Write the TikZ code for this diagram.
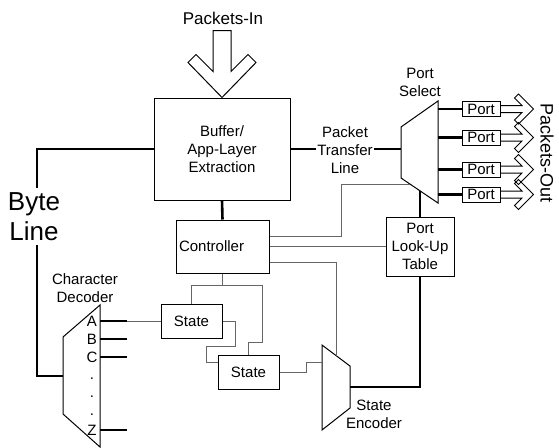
\documentclass[tikz,border=0pt]{standalone}
\usepackage{fontspec}
\setmainfont{Liberation Sans}

\begin{document}
\begin{tikzpicture}[x=1pt,y=-1pt,
    font=\fontsize{15}{18}\selectfont,
    blk/.style={draw,line width=1pt,inner sep=0pt,align=center},
    txt/.style={align=center,inner sep=0pt},
    bus/.style={line width=2.6pt},
    wire/.style={line width=1pt,draw=black!60},
    outline/.style={line width=1pt}]

    \useasboundingbox (0,0) rectangle (559,447);

    \node[blk,minimum width=136pt,minimum height=102pt] (buf) at (222,149) {Buffer/\\App-Layer\\Extraction};
    \node[blk,minimum width=93pt,minimum height=53pt,text width=87pt,inner sep=3pt,align=left] (ctrl) at (222.5,246.5) {Controller};
    \node[blk,minimum width=61pt,minimum height=34pt] (st1) at (191.5,321) {State};
    \node[blk,minimum width=61pt,minimum height=34pt] (st2) at (248.5,372) {State};
    \node[blk,minimum width=68pt,minimum height=59pt] (lut) at (420,246.5) {Port\\Look-Up\\Table};
    \foreach \i/\y in {1/109,2/137.5,3/169.5,4/194.5}
        \node[blk,minimum width=38pt,minimum height=15pt] (p\i) at (481,\y) {Port};

    \node[txt,font=\fontsize{17}{20}\selectfont] (pin) at (223,18) {Packets-In};
    \node[txt,font=\fontsize{18}{20}\selectfont,rotate=-90] (pout) at (547,153) {Packets-Out};
    \node[txt,inner sep=4pt,font=\fontsize{26}{30}\selectfont] (byte) at (34,216.5) {Byte\\Line};
    \node[txt,inner sep=1.5pt] (ptl) at (345,150) {Packet\\Transfer\\Line};
    \node[txt] (psel) at (420,82) {Port\\Select};
    \node[txt] (cdec) at (85,288) {Character\\Decoder};
    \node[txt] (senc) at (374,414) {State\\Encoder};

    \draw[outline] (401,127) -- (438,101) -- (438,203) -- (401,178) -- cycle;
    \coordinate (selIn) at (401,149);
    \coordinate (selOut) at (438,0);
    \coordinate (selB1) at (410,184);
    \coordinate (selB2) at (420,191);

    \draw[outline] (63,337) -- (100,305) -- (100,447) -- (63,414) -- cycle;
    \coordinate (decL) at (63,376);
    \coordinate (decR) at (100,0);
    \foreach \l/\y [count=\k] in {A/321,B/339,C/357,./379,./397,./415,Z/430}
        \node[txt] (d\k) at (92,\y) {\l};

    \draw[outline] (322,345) -- (350,366) -- (350,408) -- (322,430) -- cycle;
    \coordinate (encL) at (322,362);
    \coordinate (encR) at (350,387);
    \coordinate (encT) at (336,355.5);

    \draw[outline] (buf.north) -- ++(-34,-35) -- ++(8,-8) -- ++(17,17) -- ++(0,-41)
        -- ++(18,0) -- ++(0,41) -- ++(17,-17) -- ++(8,8) -- cycle;

    \draw[bus] (buf.east) -- (buf.east -| ptl.west);
    \draw[bus] (ptl.east |- selIn) -- (selIn);
    \draw[bus] (buf.south) -- (ctrl.north);
    \draw[bus] (buf.west) -| ([xshift=3pt]byte.north);
    \draw[bus] ([xshift=3pt]byte.south) |- (decL);

    \foreach \i in {1,...,4} {
        \draw[bus] (p\i.west -| selOut) -- (p\i.west);
        \draw[outline] (p\i.east) ++(0,-3.5) -- ++(21.5,0) -- ++(-7.5,-7.5) -- ++(4,-4)
            -- ++(15,15) -- ++(-15,15) -- ++(-4,-4) -- ++(7.5,-7.5) -- ++(-21.5,0);
    }

    \draw[bus] (lut.north) -- (selB2);
    \draw[bus] (lut.south) |- (encR);

    \draw[bus] (d1 -| decR) -- ++(27,0) coordinate (aEnd);
    \foreach \k in {2,3,7}
        \draw[bus] (d\k -| decR) -- ++(27,0);
    \draw[wire] (aEnd) -- (st1.west);

    \draw[wire] ([yshift=10.5pt]ctrl.east) -- ++(71.5,0) |- (selB1);
    \draw[wire] (ctrl.east) -- (lut.west);
    \draw[wire] ([yshift=-15.5pt]ctrl.east) -| (encT);

    \draw[wire] (ctrl.south) -- ++(0,12) coordinate (cb) -| (st1.north);
    \draw[wire] (cb) -- ++(39.5,0) |- ([yshift=12pt]st2.north) -- (st2.north);
    \draw[wire] (st1.east) -- ++(13,0) |- ++(-29,25) |- ([yshift=10pt]st2.west);
    \draw[wire] (st2.east) -- ++(27,0) |- (encL);

\end{tikzpicture}
\end{document}
